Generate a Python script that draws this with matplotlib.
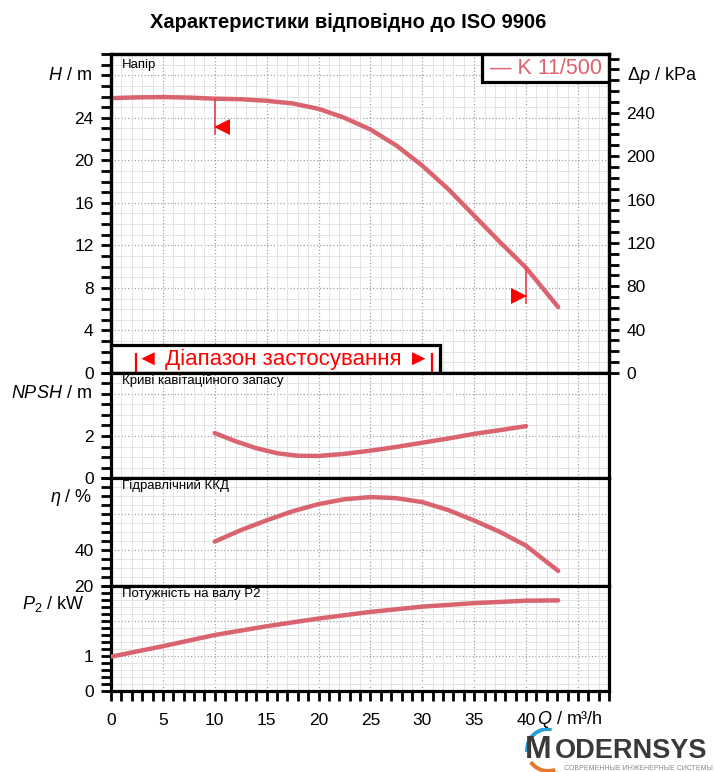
import numpy as np
import matplotlib
matplotlib.use("Agg")
import matplotlib.pyplot as plt
import matplotlib.transforms as mtransforms
from matplotlib.ticker import MultipleLocator, FixedLocator
from matplotlib.patches import Rectangle, Arc

plt.rcParams["font.family"] = ["Liberation Sans", "DejaVu Sans"]
plt.rcParams["mathtext.fontset"] = "custom"
plt.rcParams["mathtext.rm"] = "Liberation Sans"
plt.rcParams["mathtext.it"] = "Liberation Sans:italic"

# ---- data ----
pump_name = "K 11/500"

q_head = [0, 2.5, 5, 7.5, 10, 12.5, 15, 17.5, 20, 22.5, 25, 27.5, 30, 32.5, 35, 37.5, 40, 43.1]
head = [25.85, 25.92, 25.95, 25.9, 25.8, 25.75, 25.6, 25.35, 24.85, 24.0, 22.9, 21.4,
        19.5, 17.3, 14.8, 12.3, 9.9, 6.2]

q_npsh = [10, 12, 14, 16, 18, 20, 22.5, 25, 27.5, 30, 32.5, 35, 37.5, 40]
npsh = [2.14, 1.75, 1.42, 1.18, 1.06, 1.05, 1.15, 1.30, 1.48, 1.68, 1.88, 2.10, 2.28, 2.47]

q_eta = [10, 12.5, 15, 17.5, 20, 22.5, 25, 27.5, 30, 32.5, 35, 37.5, 40, 43.1]
eta = [44.7, 51.0, 56.5, 61.5, 65.5, 68.2, 69.4, 68.8, 66.6, 62.2, 56.4, 50.0, 42.4, 28.4]

q_p2 = [0, 5, 10, 15, 20, 25, 30, 35, 40, 43.1]
p2 = [0.98, 1.28, 1.60, 1.85, 2.07, 2.26, 2.41, 2.51, 2.58, 2.59]

range_q = [10, 40]          # recommended operating range
range_head = [25.8, 9.9]    # head at the range limits
band_q = [2.4, 30.9]        # bars in the "application range" box

kpa_per_m = 9.80665

x_ticks = [0, 5, 10, 15, 20, 25, 30, 35, 40, 45]
x_ticklabels = ["0", "5", "10", "15", "20", "25", "30", "35", "40", ""]

CURVE = "#d9646f"
RED = "#ff0000"

W, H = 715, 772
fig = plt.figure(figsize=(W / 100, H / 100), dpi=100)

left_px, right_px = 111, 609


def add_panel(top_px, bot_px):
    return fig.add_axes([left_px / W, 1 - bot_px / H,
                         (right_px - left_px) / W, (bot_px - top_px) / H])


def style_panel(ax, ylim, yticks, ylabels, minor, grid_major, title, label, label_y, label_x=-0.038):
    ax.set_xlim(0, 48)
    ax.set_ylim(*ylim)
    ax.xaxis.set_major_locator(FixedLocator(x_ticks))
    ax.xaxis.set_minor_locator(MultipleLocator(1))
    ax.yaxis.set_major_locator(FixedLocator(yticks))
    ax.set_yticklabels(ylabels)
    ax.yaxis.set_minor_locator(MultipleLocator(minor))
    for s in ax.spines.values():
        s.set_linewidth(2.3)
    ax.tick_params(axis="y", which="both", direction="out", length=7.5, width=2.0,
                   labelsize=12.5, pad=5)
    ax.tick_params(axis="x", which="both", bottom=False, labelbottom=False)
    ax.grid(which="minor", color="#e4e4e4", lw=0.7, ls="-")
    ax.grid(which="major", axis="x", color="#a0a0a0", lw=0.9, ls=":")
    for g in grid_major:
        ax.axhline(g, color="#a0a0a0", lw=0.9, ls=":", zorder=0.5)
    ax.set_axisbelow(True)
    ax.text(0.022, 0.985, title, transform=ax.transAxes, ha="left", va="top", fontsize=9.5)
    tr = mtransforms.blended_transform_factory(ax.transAxes, ax.transData)
    ax.text(label_x, label_y, label, transform=tr, ha="right", va="center", fontsize=13)


# ---- head panel ----
ax_h = add_panel(54, 373)
style_panel(ax_h, (0, 30), [0, 4, 8, 12, 16, 20, 24, 28],
            ["0", "4", "8", "12", "16", "20", "24", ""], 1, [4, 8, 12, 16, 20, 24, 28],
            "Напір", r"$\mathit{H}$ / m", 28)
ax_h.plot(q_head, head, color=CURVE, lw=3.2, solid_capstyle="round",
          solid_joinstyle="round", zorder=3)

# operating range markers
for i, (q, h) in enumerate(zip(range_q, range_head)):
    ax_h.plot([q, q], [h, h - 3.3], color="#e8404a", lw=1.2, zorder=3)
    dx = 7 if i == 0 else -7
    tr = mtransforms.offset_copy(ax_h.transData, fig=fig, x=dx, y=0, units="dots")
    ax_h.plot([q], [h - 2.7], marker="<" if i == 0 else ">", color=RED, ms=11,
              mew=0, transform=tr, zorder=4)

# application range box
ax_h.add_patch(Rectangle((0, 0), 0.661, 0.088, transform=ax_h.transAxes,
                         facecolor="white", edgecolor="black", lw=2.3, zorder=3))
ax_h.vlines(band_q, 0, 1.9, color=RED, lw=1.6, zorder=4)
ax_h.text(sum(band_q) / 2, 1.25, "◄ Діапазон застосування ►", color=RED,
          fontsize=16, ha="center", va="center", zorder=5)

# legend box
ax_h.add_patch(Rectangle((0.745, 0.912), 0.255, 0.088, transform=ax_h.transAxes,
                         facecolor="white", edgecolor="black", lw=2.3, zorder=3))
ax_h.text(0.9855, 0.955, "— " + pump_name, transform=ax_h.transAxes, color=CURVE,
          fontsize=15.5, ha="right", va="center", zorder=5)

# pressure axis
ax_p = ax_h.twinx()
ax_p.set_ylim(0, 30 * kpa_per_m)
ax_p.yaxis.set_major_locator(FixedLocator([0, 40, 80, 120, 160, 200, 240]))
ax_p.yaxis.set_minor_locator(MultipleLocator(10))
ax_p.tick_params(axis="y", which="both", direction="out", length=7.5, width=2.0,
                 labelsize=12.5, pad=5)
for s in ax_p.spines.values():
    s.set_linewidth(2.3)
ax_h.text(1.036, 28, r"Δ$\mathit{p}$ / kPa",
          transform=mtransforms.blended_transform_factory(ax_h.transAxes, ax_h.transData),
          ha="left", va="center", fontsize=13)

# ---- NPSH panel ----
ax_n = add_panel(373, 478)
style_panel(ax_n, (0, 5), [0, 2, 4], ["0", "2", ""], 0.5, [2, 4],
            "Криві кавітаційного запасу", r"$\mathit{NPSH}$ / m", 4)
ax_n.plot(q_npsh, npsh, color=CURVE, lw=3.2, solid_capstyle="round",
          solid_joinstyle="round", zorder=3)

# ---- efficiency panel ----
ax_e = add_panel(478, 586)
style_panel(ax_e, (20, 80), [20, 40, 60, 80], ["20", "40", "", ""], 5, [40, 60],
            "Гідравлічний ККД", r"$\mathit{\eta}$ / %", 69)
ax_e.plot(q_eta, eta, color=CURVE, lw=3.2, solid_capstyle="round",
          solid_joinstyle="round", zorder=3)

# ---- power panel ----
ax_w = add_panel(586, 691)
style_panel(ax_w, (0, 3), [0, 1, 2, 3], ["0", "1", "", ""], 0.2, [1, 2],
            "Потужність на валу P2", r"$\mathit{P_2}$ / kW", 2.5, label_x=-0.053)
ax_w.plot(q_p2, p2, color=CURVE, lw=3.2, solid_capstyle="round",
          solid_joinstyle="round", zorder=3)
ax_w.tick_params(axis="x", which="both", bottom=True, labelbottom=True, direction="out",
                 length=7.5, width=2.0, labelsize=12.5, pad=8)
ax_w.set_xticklabels(x_ticklabels)
ax_w.text(41.1, -0.275, r"$\mathit{Q}$ / m³/h",
          transform=mtransforms.blended_transform_factory(ax_w.transData, ax_w.transAxes),
          ha="left", va="center", fontsize=13)

# ---- title ----
fig.text(348 / W, 1 - 22 / H, "Характеристики відповідно до ISO 9906",
         ha="center", va="center", fontsize=14.5, fontweight="bold")

# ---- logo ----
lg = fig.add_axes([515 / W, 0, 200 / W, 44 / H])
lg.set_xlim(0, 200)
lg.set_ylim(44, 0)
lg.axis("off")
lg.add_patch(Arc((33, 22), 42, 42, theta1=175, theta2=280, color="#2a9fd6", lw=2.8))
lg.add_patch(Arc((33, 22), 42, 42, theta1=70, theta2=145, color="#e8772e", lw=2.8))
lg.text(10, 30, "M", fontsize=23, fontweight="bold", color="#3a3a3a", va="baseline")
lg.text(40, 30, "ODERNSYS", fontsize=19.5, fontweight="bold", color="#3a3a3a", va="baseline")
lg.text(198, 42.5, "СОВРЕМЕННЫЕ ИНЖЕНЕРНЫЕ СИСТЕМЫ", fontsize=5, color="#8a8a8a",
        ha="right", va="baseline")

fig.savefig("out.png", dpi=100)
